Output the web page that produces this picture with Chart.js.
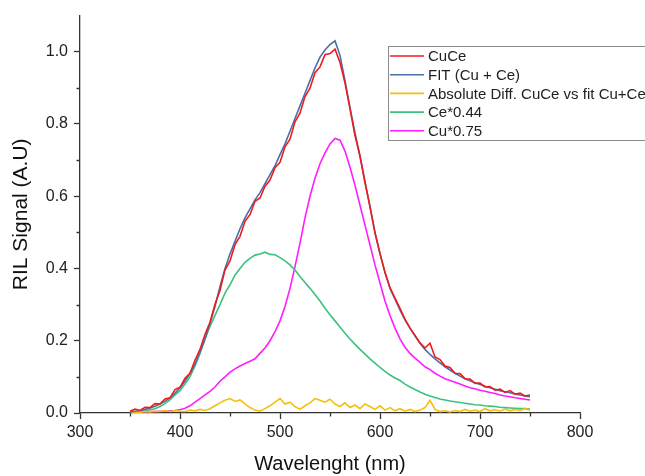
<!DOCTYPE html>
<html>
<head>
<meta charset="utf-8">
<script src="https://cdn.jsdelivr.net/npm/chart.js@4.4.1/dist/chart.umd.min.js"></script>
<style>
  html, body { margin: 0; padding: 0; background: #ffffff; }
  #wrap { width: 645px; height: 476px; }
</style>
</head>
<body>
<div id="wrap"><canvas id="c" width="645" height="476"></canvas></div>
<script>
// Wavelength (nm), 5 nm steps
const wavelengths = [];
for (let w = 350; w <= 750; w += 5) wavelengths.push(w);

const seriesLabels = ["CuCe", "FIT (Cu + Ce)", "Absolute Diff. CuCe vs fit Cu+Ce", "Ce*0.44", "Cu*0.75"];

const cuce = [0.005,0.011,0.007,0.016,0.015,0.026,0.025,0.039,0.042,0.065,0.071,0.096,0.11,0.146,0.176,0.217,0.251,0.301,0.339,0.396,0.421,0.466,0.489,0.531,0.549,0.586,0.595,0.628,0.645,0.679,0.694,0.737,0.758,0.806,0.83,0.876,0.899,0.942,0.958,0.992,0.995,1.007,0.97,0.913,0.842,0.768,0.712,0.638,0.572,0.498,0.442,0.388,0.347,0.318,0.29,0.26,0.235,0.215,0.194,0.18,0.193,0.155,0.148,0.13,0.126,0.11,0.109,0.095,0.094,0.082,0.083,0.072,0.073,0.063,0.066,0.057,0.062,0.052,0.055,0.047,0.05];

const fit = [0.003,0.005,0.007,0.01,0.014,0.019,0.025,0.032,0.042,0.055,0.07,0.088,0.11,0.135,0.168,0.205,0.248,0.295,0.35,0.4,0.44,0.475,0.51,0.54,0.565,0.59,0.61,0.635,0.66,0.685,0.715,0.745,0.78,0.815,0.85,0.885,0.92,0.955,0.985,1.005,1.02,1.03,0.99,0.92,0.845,0.775,0.71,0.64,0.57,0.5,0.44,0.39,0.345,0.315,0.285,0.258,0.235,0.213,0.193,0.176,0.162,0.15,0.139,0.128,0.119,0.11,0.102,0.095,0.089,0.084,0.079,0.074,0.07,0.066,0.062,0.059,0.056,0.053,0.05,0.047,0.045];

const absDiff = [0.002,0.003,0.002,0.004,0.003,0.005,0.004,0.006,0.004,0.007,0.005,0.004,0.008,0.006,0.01,0.007,0.012,0.02,0.028,0.035,0.04,0.032,0.036,0.025,0.015,0.008,0.005,0.012,0.02,0.03,0.04,0.025,0.03,0.018,0.01,0.02,0.028,0.04,0.035,0.03,0.038,0.025,0.018,0.028,0.015,0.022,0.012,0.025,0.018,0.01,0.02,0.008,0.015,0.006,0.012,0.005,0.01,0.004,0.008,0.015,0.035,0.01,0.004,0.006,0.003,0.007,0.004,0.01,0.005,0.008,0.004,0.012,0.006,0.009,0.005,0.011,0.006,0.01,0.007,0.012,0.008];

const ce044 = [0.002,0.003,0.004,0.006,0.009,0.012,0.018,0.026,0.036,0.05,0.062,0.08,0.1,0.13,0.165,0.205,0.24,0.27,0.3,0.332,0.355,0.382,0.4,0.417,0.428,0.437,0.44,0.445,0.439,0.438,0.43,0.421,0.41,0.396,0.378,0.361,0.345,0.328,0.31,0.29,0.272,0.255,0.238,0.221,0.205,0.19,0.176,0.163,0.15,0.138,0.126,0.115,0.105,0.097,0.09,0.08,0.072,0.065,0.058,0.052,0.047,0.043,0.039,0.036,0.033,0.031,0.029,0.027,0.025,0.023,0.022,0.02,0.019,0.018,0.016,0.015,0.014,0.013,0.012,0.012,0.011];

const cu075 = [0.002,0.002,0.003,0.003,0.004,0.004,0.005,0.005,0.006,0.007,0.009,0.013,0.02,0.03,0.04,0.05,0.06,0.072,0.088,0.1,0.113,0.122,0.13,0.137,0.143,0.15,0.165,0.18,0.2,0.225,0.255,0.295,0.345,0.405,0.47,0.54,0.6,0.65,0.69,0.72,0.745,0.76,0.755,0.725,0.68,0.63,0.575,0.52,0.465,0.41,0.36,0.31,0.27,0.235,0.205,0.182,0.165,0.152,0.14,0.128,0.12,0.11,0.102,0.095,0.09,0.085,0.08,0.075,0.07,0.067,0.063,0.06,0.057,0.054,0.05,0.047,0.045,0.042,0.04,0.038,0.036];

const xTickValues = [300, 400, 500, 600, 700, 800];
const yTickValues = [0, 0.2, 0.4, 0.6, 0.8, 1.0];
const xTitle = "Wavelenght (nm)";
const yTitle = "RIL Signal (A.U)";

const colors = ["#ee1c1c", "#4a70a8", "#f5bf0a", "#3cc27c", "#ff1cff"];
const seriesData = [cuce, fit, absDiff, ce044, cu075];

const datasets = seriesData.map((arr, i) => ({
  label: seriesLabels[i],
  data: arr.map((v, j) => ({ x: wavelengths[j], y: v })),
  borderColor: colors[i],
  backgroundColor: colors[i],
  borderWidth: 1.6,
  pointRadius: 0,
  tension: 0,
  fill: false
}));

const FONT = "'Liberation Sans', Arial, sans-serif";

const minorTicks = {
  id: 'minorTicks',
  afterDraw(chart) {
    const ctx = chart.ctx;
    const xs = chart.scales.x, ys = chart.scales.y;
    ctx.save();
    ctx.strokeStyle = '#333';
    ctx.lineWidth = 1.3;
    ctx.beginPath();
    for (let v = 350; v < 800; v += 100) {
      const px = Math.round(xs.getPixelForValue(v)) + 0.5;
      ctx.moveTo(px, xs.top); ctx.lineTo(px, xs.top + 3.5);
    }
    for (let v = 0.1; v < 1.05; v += 0.2) {
      const py = Math.round(ys.getPixelForValue(v)) + 0.5;
      ctx.moveTo(ys.right, py); ctx.lineTo(ys.right - 3.5, py);
    }
    ctx.stroke();
    ctx.restore();
  }
};

const boxLegend = {
  id: 'boxLegend',
  afterDraw(chart) {
    const ctx = chart.ctx;
    const bx = 388.5, by = 46.5, bw = 300, bh = 94;
    ctx.save();
    ctx.fillStyle = '#ffffff';
    ctx.fillRect(bx, by, bw, bh);
    ctx.strokeStyle = '#8a8a8a';
    ctx.lineWidth = 1;
    ctx.strokeRect(bx, by, bw, bh);
    ctx.font = '15px ' + FONT;
    ctx.textBaseline = 'middle';
    chart.data.datasets.forEach((ds, i) => {
      const y = 56 + i * 18.7;
      ctx.strokeStyle = ds.borderColor;
      ctx.lineWidth = 1.6;
      ctx.beginPath();
      ctx.moveTo(390, y); ctx.lineTo(424, y);
      ctx.stroke();
      ctx.fillStyle = '#222';
      ctx.fillText(ds.label, 428, y + 1);
    });
    ctx.restore();
  }
};

new Chart(document.getElementById('c'), {
  type: 'line',
  data: { datasets },
  options: {
    responsive: false,
    animation: false,
    layout: { padding: { top: 10, right: 65, left: 0, bottom: 0 } },
    plugins: { legend: { display: false }, tooltip: { enabled: false } },
    scales: {
      x: {
        type: 'linear',
        min: 300, max: 800,
        afterFit: s => { s.height = 63; },
        afterBuildTicks: s => { s.ticks = xTickValues.map(v => ({ value: v })); },
        border: { color: '#333', width: 1.3 },
        grid: { drawOnChartArea: false, drawTicks: true, tickLength: 6, color: '#333', tickWidth: 1.3 },
        ticks: { color: '#222', font: { family: FONT, size: 16 }, padding: 4, maxRotation: 0,
                 callback: v => String(v) },
        title: { display: true, text: xTitle, color: '#111', font: { family: FONT, size: 20 }, padding: { top: 0, bottom: 0 } }
      },
      y: {
        type: 'linear',
        min: 0, max: 1.1,
        afterFit: s => { s.width = 80; },
        afterBuildTicks: s => { s.ticks = yTickValues.map(v => ({ value: v })); },
        border: { color: '#333', width: 1.3 },
        grid: { drawOnChartArea: false, drawTicks: true, tickLength: 6, color: '#333', tickWidth: 1.3 },
        ticks: { color: '#222', font: { family: FONT, size: 16 }, padding: 6,
                 callback: v => Number(v).toFixed(1) },
        title: { display: true, text: yTitle, color: '#111', font: { family: FONT, size: 21 }, padding: { top: 9, bottom: 0 } }
      }
    }
  },
  plugins: [minorTicks, boxLegend]
});
</script>
</body>
</html>
